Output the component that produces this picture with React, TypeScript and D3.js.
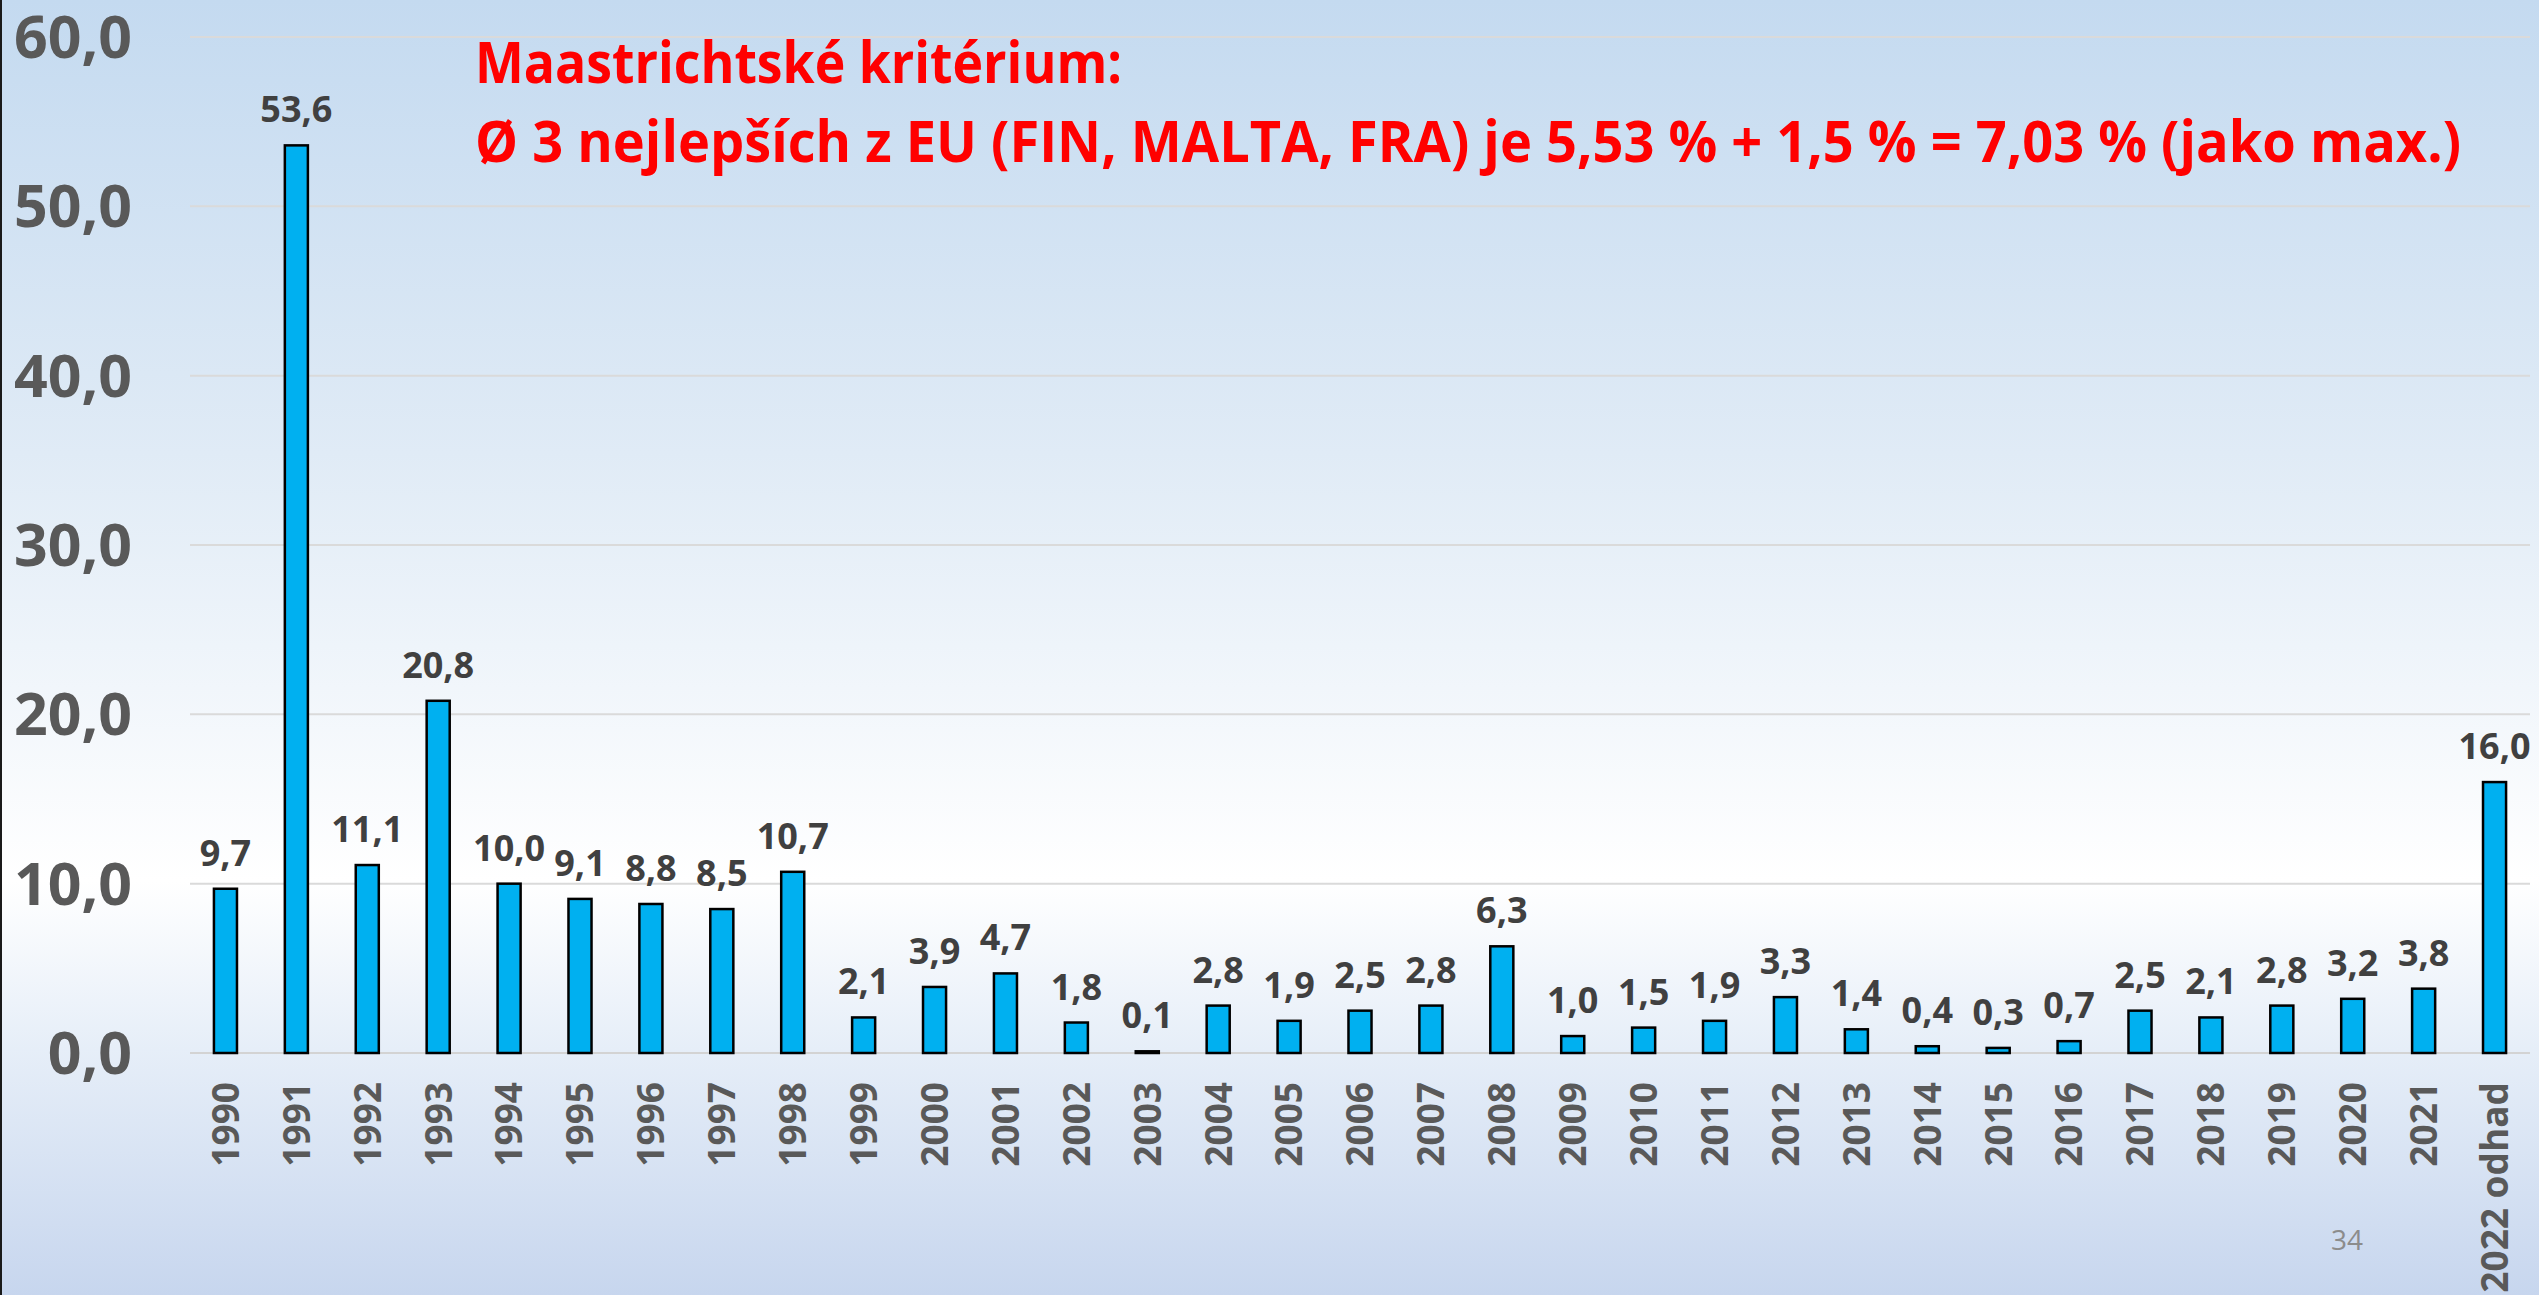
import * as d3 from 'd3';

// Inflation in CZ by year
const years = [
  '1990', '1991', '1992', '1993', '1994', '1995', '1996', '1997', '1998', '1999',
  '2000', '2001', '2002', '2003', '2004', '2005', '2006', '2007', '2008', '2009',
  '2010', '2011', '2012', '2013', '2014', '2015', '2016', '2017', '2018', '2019',
  '2020', '2021', '2022 odhad',
];
const inflation = [
  9.7, 53.6, 11.1, 20.8, 10.0, 9.1, 8.8, 8.5, 10.7, 2.1,
  3.9, 4.7, 1.8, 0.1, 2.8, 1.9, 2.5, 2.8, 6.3, 1.0,
  1.5, 1.9, 3.3, 1.4, 0.4, 0.3, 0.7, 2.5, 2.1, 2.8,
  3.2, 3.8, 16.0,
];
const yTicks = [0, 10, 20, 30, 40, 50, 60];
const titleLines = [
  'Maastrichtské kritérium:',
  'Ø 3 nejlepších z EU (FIN, MALTA, FRA) je 5,53 % + 1,5 % = 7,03 % (jako max.)',
];
const pageNumber = '34';

const W = 2539;
const H = 1295;
const FONT = '"Open Sans", Lato, sans-serif';

const cz = d3.formatLocale({ decimal: ',', thousands: ' ', grouping: [3], currency: ['', ' Kč'] });
const fmt = cz.format('.1f');

export default function App() {
  const x = d3.scaleBand<string>()
    .domain(years)
    .range([190, 2530])
    .paddingInner(0.675)
    .paddingOuter(0.3375);

  const y = d3.scaleLinear()
    .domain([0, 60])
    .range([1053, 37]);

  const data = years.map((year, i) => ({ year, value: inflation[i] }));

  return (
    <svg
      width={W}
      height={H}
      style={{ position: 'absolute', left: 0, top: 0, display: 'block' }}
      fontFamily={FONT}
    >
      <defs>
        <linearGradient id="bg" x1="0" y1="0" x2="0" y2="1">
          <stop offset="0%" stopColor="#C4DAF0" />
          <stop offset="35%" stopColor="#E0EBF6" />
          <stop offset="68%" stopColor="#FFFFFF" />
          <stop offset="81%" stopColor="#E6EEF8" />
          <stop offset="100%" stopColor="#C7D6EE" />
        </linearGradient>
      </defs>

      <rect x={0} y={0} width={W} height={H} fill="url(#bg)" />
      <line x1={1} x2={1} y1={0} y2={H} stroke="#1a1a1a" strokeWidth={2} />

      {/* gridlines */}
      {yTicks.map(t => (
        <line
          key={t}
          x1={190}
          x2={2530}
          y1={y(t)}
          y2={y(t)}
          stroke={t === 0 ? '#D3D3D3' : '#DADADA'}
          strokeWidth={2}
        />
      ))}

      {/* y axis labels */}
      {yTicks.map(t => (
        <text
          key={'yl' + t}
          x={132}
          y={y(t) + 21}
          textAnchor="end"
          fontSize={59}
          fontWeight="bold"
          fill="#595959"
        >
          {fmt(t)}
        </text>
      ))}

      {/* bars */}
      {data.map(d => (
        <rect
          key={d.year}
          x={x(d.year)}
          y={y(d.value)}
          width={x.bandwidth()}
          height={y(0) - y(d.value)}
          fill="#00B0F0"
          stroke="#000000"
          strokeWidth={2.5}
        />
      ))}

      {/* data labels */}
      {data.map(d => (
        <text
          key={'dl' + d.year}
          x={(x(d.year) ?? 0) + x.bandwidth() / 2}
          y={y(d.value) - 23}
          textAnchor="middle"
          fontSize={36}
          fontWeight="bold"
          fill="#404040"
        >
          {fmt(d.value)}
        </text>
      ))}

      {/* x axis labels */}
      {years.map(yr => (
        <text
          key={'xl' + yr}
          transform={`translate(${(x(yr) ?? 0) + x.bandwidth() / 2},1082) rotate(-90)`}
          dy="0.36em"
          textAnchor="end"
          fontSize={37}
          fontWeight="bold"
          fill="#595959"
        >
          {yr}
        </text>
      ))}

      {/* title */}
      <text
        x={475}
        y={83}
        fontSize={57}
        fontWeight="bold"
        fill="#FF0000"
        textLength={647}
        lengthAdjust="spacingAndGlyphs"
      >
        {titleLines[0]}
      </text>
      <text
        x={475}
        y={162}
        fontSize={57}
        fontWeight="bold"
        fill="#FF0000"
        textLength={1986}
        lengthAdjust="spacingAndGlyphs"
      >
        {titleLines[1]}
      </text>

      <text x={2347} y={1250} textAnchor="middle" fontSize={28} fill="#8C8C8C">
        {pageNumber}
      </text>
    </svg>
  );
}
